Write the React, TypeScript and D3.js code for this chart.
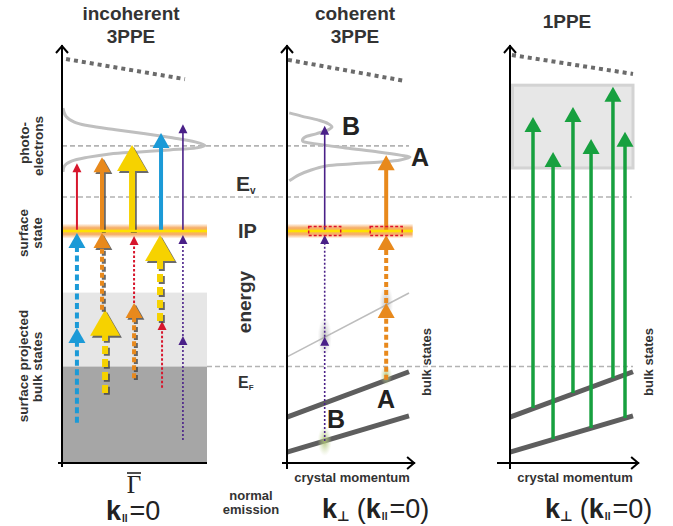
import React from 'react';
import * as d3 from 'd3';

// energy axis (arbitrary units, E_F = 0)
const E_MIN = -2.4;
const E_MAX = 8;
const E_F = 0;
const E_GAP_TOP = 1.84;
const E_IP = 3.37;
const E_VAC = 4.22;
const E_PEAK = 5.49;

// photoelectron spectra: energy / normalised intensity
const spec1E = [6.43, 6.23, 6.08, 5.99, 5.89, 5.79, 5.69, 5.59, 5.5, 5.44, 5.39, 5.34, 5.29, 5.21, 5.11, 4.99, 4.84];
const spec1I = [0, 0.02, 0.08, 0.18, 0.37, 0.58, 0.77, 0.93, 1.0, 0.94, 0.75, 0.54, 0.33, 0.18, 0.06, 0.01, 0];
const spec2E = [6.31, 6.23, 6.13, 6.04, 5.96, 5.89, 5.79, 5.69, 5.61, 5.54, 5.44, 5.34, 5.26, 5.21, 5.14, 5.09, 5.04, 4.99, 4.89, 4.77, 4.62];
const spec2I = [0.01, 0.11, 0.25, 0.33, 0.36, 0.33, 0.23, 0.13, 0.12, 0.23, 0.47, 0.74, 0.92, 1.0, 0.92, 0.76, 0.51, 0.31, 0.19, 0.09, 0.01];

// bulk bands (crystal momentum 0..1)
const bandK = [0, 1];
const upperBandE = [-1.26, -0.13];
const lowerBandE = [-2.13, -1.23];
const thinBandE = [0.24, 1.83];

// upper dotted limit lines: [k0, k1], [E0, E1]
const limitK = [[0.028, 0.848], [0.008, 0.976], [0.016, 1.0]];
const limitE = [[7.65, 7.15], [7.63, 7.1], [7.75, 7.28]];

// incoherent 3PPE: three steps, [position, from, to, photon]
const incoStep1 = [
  [0.103, -1.4, 0.96, 'blue'],
  [0.297, -0.66, 1.41, 'yellow'],
  [0.497, -0.29, 1.58, 'orange'],
  [0.69, -0.53, 1.13, 'red'],
  [0.834, -1.83, 0.76, 'purple'],
];
const incoStep2 = [
  [0.103, 0.96, 3.32, 'blue'],
  [0.276, 1.41, 3.32, 'orange'],
  [0.497, 1.58, 3.25, 'red'],
  [0.676, 1.13, 3.27, 'yellow'],
  [0.834, 0.76, 3.27, 'purple'],
];
const incoStep3 = [
  [0.103, 3.37, 5.06, 'red'],
  [0.276, 3.37, 5.21, 'orange'],
  [0.483, 3.37, 5.51, 'yellow'],
  [0.683, 3.37, 5.81, 'blue'],
  [0.834, 3.37, 6.03, 'purple'],
];

// coherent 3PPE
const cohStep1 = [
  [0.309, -1.85, 0.74, 'purple'],
  [0.813, -0.33, 1.58, 'orange'],
];
const cohStep2 = [
  [0.309, 0.74, 3.27, 'purple'],
  [0.813, 1.58, 3.27, 'orange'],
];
const cohStep3 = [
  [0.309, 3.37, 5.99, 'purple'],
  [0.813, 3.37, 5.26, 'orange'],
];

// 1PPE direct transitions
const onePK = [0.187, 0.35, 0.512, 0.659, 0.837, 0.935];
const onePFrom = [-1.03, -1.8, -0.66, -1.53, -0.29, -1.28];
const onePTo = [6.21, 5.34, 6.46, 5.66, 6.96, 5.84];

const photons = {
  blue: { color: '#1b9ad7', w: 4, hw: 17, hl: 15, dash: '6 3.5', shadow: false },
  orange: { color: '#e8891c', w: 4, hw: 17, hl: 15, dash: '5 3', shadow: true },
  yellow: { color: '#f6d200', w: 6, hw: 30, hl: 26, dash: '8 5', shadow: true },
  red: { color: '#d7162c', w: 2, hw: 9, hl: 9, dash: '2.5 2', shadow: false },
  purple: { color: '#4a2088', w: 1.6, hw: 9, hl: 9, dash: '2 2', shadow: false },
  green: { color: '#17a03f', w: 3.5, hw: 17, hl: 15, dash: null, shadow: false },
};

const yE = d3.scaleLinear().domain([E_MIN, E_MAX]).range([463, 45]);
const x1 = d3.scaleLinear().domain([0, 1]).range([62, 207]);
const x2 = d3.scaleLinear().domain([0, 1]).range([287, 409]);
const x3 = d3.scaleLinear().domain([0, 1]).range([510, 633]);
const i1 = d3.scaleLinear().domain([0, 1]).range([63, 205]);
const i2 = d3.scaleLinear().domain([0, 1]).range([288, 410]);

const FONT = '"Liberation Sans", Arial, sans-serif';
const TXT = '#333';

function Arrow({ x, from, to, p, dashed, noShadow }) {
  const st = photons[p];
  const y0 = yE(from);
  const y1 = yE(to);
  const shaftEnd = y1 + st.hl * 0.85;
  const head = `M${x},${y1} L${x + st.hw / 2},${y1 + st.hl} L${x - st.hw / 2},${y1 + st.hl} Z`;
  const shapes = (c, key) => (
    <g key={key}>
      <line x1={x} x2={x} y1={y0} y2={shaftEnd} stroke={c} strokeWidth={st.w}
        strokeDasharray={dashed ? st.dash : undefined} />
      <path d={head} fill={c} />
    </g>
  );
  return (
    <g>
      {st.shadow && !noShadow && <g transform="translate(1.8,1.8)" opacity={0.75}>{shapes('#3a3a3a', 's')}</g>}
      {shapes(st.color, 'm')}
    </g>
  );
}

function VAxis({ x, y0, y1 }) {
  return (
    <g stroke="#000" strokeWidth={2} fill="none">
      <line x1={x} x2={x} y1={y0} y2={y1} />
      <polyline points={`${x - 6},${y1 + 8} ${x},${y1 + 1} ${x + 6},${y1 + 8}`} />
    </g>
  );
}

function HAxis({ x0, x1, y, arrow }) {
  return (
    <g stroke="#000" strokeWidth={2} fill="none">
      <line x1={x0} x2={x1} y1={y} y2={y} />
      {arrow && <polyline points={`${x1 - 8},${y - 6} ${x1 - 1},${y} ${x1 - 8},${y + 6}`} />}
    </g>
  );
}

function Rot({ x, y, children, size = 13.5 }) {
  return (
    <text transform={`translate(${x},${y}) rotate(-90)`} textAnchor="middle" fontFamily={FONT}
      fontWeight="bold" fontSize={size} fill={TXT}>{children}</text>
  );
}

export default function App() {
  const spec = (E, I, xs) =>
    d3.line<number>().x((_, j) => xs(I[j])).y((e) => yE(e)).curve(d3.curveCatmullRom.alpha(0.5))(E);
  const band = (xs, E) => d3.line<number>().x((k) => xs(k)).y((_, j) => yE(E[j]))(bandK);
  const yF = yE(E_F);
  const yB = yE(E_MIN);
  const yIP = yE(E_IP);
  const bandHalf = 7.5;

  const glow = (id, cx, E, w, h) => (
    <rect x={cx - w / 2} y={yE(E) - h / 2} width={w} height={h} fill={`url(#${id})`} />
  );

  return (
    <svg width={673} height={526} style={{ position: 'absolute', left: 0, top: 0, background: '#fff' }}>
      <defs>
        <linearGradient id="ssband" x1="0" y1="0" x2="0" y2="1">
          <stop offset="0" stopColor="#f6a14a" stopOpacity={0} />
          <stop offset="0.28" stopColor="#f39a45" stopOpacity={0.8} />
          <stop offset="0.5" stopColor="#f8be4a" stopOpacity={1} />
          <stop offset="0.72" stopColor="#f39a45" stopOpacity={0.8} />
          <stop offset="1" stopColor="#f6a14a" stopOpacity={0} />
        </linearGradient>
        <radialGradient id="grayglow">
          <stop offset="0" stopColor="#9a9a9a" stopOpacity={0.6} />
          <stop offset="1" stopColor="#b0b0b0" stopOpacity={0} />
        </radialGradient>
        <radialGradient id="greenglow">
          <stop offset="0" stopColor="#a9c16f" stopOpacity={0.9} />
          <stop offset="1" stopColor="#c9d8a0" stopOpacity={0} />
        </radialGradient>
      </defs>

      {/* panel 1 backgrounds */}
      <rect x={x1(0)} y={yE(E_GAP_TOP)} width={x1(1) - x1(0)} height={yF - yE(E_GAP_TOP)} fill="#e6e6e6" />
      <rect x={x1(0)} y={yF} width={x1(1) - x1(0)} height={yB - yF} fill="#a6a6a6" />

      {/* reference dashed levels */}
      <g stroke="#b3b3b3" strokeWidth={1.6} strokeDasharray="5 3">
        <line x1={x1(0)} x2={x2(1)} y1={yE(E_PEAK)} y2={yE(E_PEAK)} />
        <line x1={x1(0)} x2={x3(0.99)} y1={yE(E_VAC)} y2={yE(E_VAC)} />
        <line x1={x1(1)} x2={x3(1)} y1={yF} y2={yF} />
      </g>

      {/* upper dotted limit lines */}
      {[x1, x2, x3].map((xs, j) => (
        <line key={j} x1={xs(limitK[j][0])} x2={xs(limitK[j][1])} y1={yE(limitE[j][0])} y2={yE(limitE[j][1])}
          stroke="#6b6b6b" strokeWidth={4} strokeDasharray="4 4" />
      ))}

      {/* spectra */}
      <path d={spec(spec1E, spec1I, i1)} fill="none" stroke="#bfbfbf" strokeWidth={3} />
      <path d={spec(spec2E, spec2I, i2)} fill="none" stroke="#bfbfbf" strokeWidth={3} />

      {/* 1PPE final state box */}
      <rect x={x3(0.02)} y={yE(7.0)} width={x3(1.0) - x3(0.02)} height={yE(4.94) - yE(7.0)}
        fill="#e7e7e7" stroke="#d3d3d3" strokeWidth={3} />

      {/* surface state glow */}
      <rect x={x1(0)} y={yIP - bandHalf} width={x1(1) - x1(0)} height={bandHalf * 2} fill="url(#ssband)" />
      <rect x={x2(0)} y={yIP - bandHalf} width={x2(1.03) - x2(0)} height={bandHalf * 2} fill="url(#ssband)" />

      {/* bulk bands */}
      <path d={band(x2, thinBandE)} stroke="#bdbdbd" strokeWidth={1.6} fill="none" />
      {[x2, x3].map((xs, j) => (
        <g key={j} stroke="#5e5e5e" strokeWidth={5} fill="none">
          <path d={band(xs, upperBandE)} />
          <path d={band(xs, lowerBandE)} />
        </g>
      ))}

      {/* resonance glows */}
      {glow('grayglow', x2(cohStep1[0][0] as number), 0.74, 14, 40)}
      {glow('grayglow', x2(cohStep1[1][0] as number), 1.58, 14, 36)}
      {glow('greenglow', x2(cohStep1[0][0] as number), -1.85, 14, 30)}
      {glow('greenglow', x2(cohStep1[1][0] as number), -0.22, 12, 20)}

      {/* incoherent arrows */}
      {incoStep1.map((a, j) => <Arrow key={'a' + j} x={x1(a[0] as number)} from={a[1]} to={a[2]} p={a[3]} dashed />)}
      {incoStep2.map((a, j) => <Arrow key={'b' + j} x={x1(a[0] as number)} from={a[1]} to={a[2]} p={a[3]} dashed />)}
      {incoStep3.map((a, j) => <Arrow key={'c' + j} x={x1(a[0] as number)} from={a[1]} to={a[2]} p={a[3]} />)}

      {/* coherent arrows */}
      {cohStep1.map((a, j) => <Arrow key={'d' + j} x={x2(a[0] as number)} from={a[1]} to={a[2]} p={a[3]} dashed noShadow />)}
      {cohStep2.map((a, j) => <Arrow key={'e' + j} x={x2(a[0] as number)} from={a[1]} to={a[2]} p={a[3]} dashed noShadow />)}
      {cohStep3.map((a, j) => <Arrow key={'f' + j} x={x2(a[0] as number)} from={a[1]} to={a[2]} p={a[3]} noShadow />)}

      {/* 1PPE arrows */}
      {onePK.map((k, j) => <Arrow key={'g' + j} x={x3(k)} from={onePFrom[j]} to={onePTo[j]} p="green" />)}

      {/* surface state line */}
      <line x1={x1(0)} x2={x1(1)} y1={yIP} y2={yIP} stroke="#ffe100" strokeWidth={2.5} />
      <line x1={x2(0)} x2={x2(1.03)} y1={yIP} y2={yIP} stroke="#ffe100" strokeWidth={2.5} />
      {cohStep3.map((a, j) => (
        <rect key={'r' + j} x={x2(a[0] as number) - 16} y={yIP - 4.5} width={32} height={9}
          fill="none" stroke="#e0102a" strokeWidth={1.5} strokeDasharray="3 2" />
      ))}

      {/* axes */}
      <VAxis x={x1(0)} y0={yB + 4} y1={yE(E_MAX)} />
      <HAxis x0={x1(0) - 4} x1={x1(1)} y={yB} />
      <VAxis x={x2(0)} y0={yB + 6} y1={yE(E_MAX)} />
      <HAxis x0={x2(0) - 5} x1={x2(1.05)} y={yB} arrow />
      <VAxis x={x3(0)} y0={yB + 6} y1={yE(E_MAX)} />
      <HAxis x0={x3(0) - 13} x1={x3(1.05)} y={yB} arrow />

      {/* titles */}
      <g fontFamily={FONT} fontWeight="bold" fontSize={19} fill={TXT} textAnchor="middle">
        <text x={131} y={20}>incoherent</text>
        <text x={131} y={43}>3PPE</text>
        <text x={355} y={20}>coherent</text>
        <text x={355} y={43}>3PPE</text>
        <text x={567} y={28}>1PPE</text>
      </g>

      {/* left side labels */}
      <Rot x={29} y={143}>photo-</Rot>
      <Rot x={43} y={146}>electrons</Rot>
      <Rot x={28} y={233}>surface</Rot>
      <Rot x={42} y={233}>state</Rot>
      <Rot x={28} y={366}>surface projected</Rot>
      <Rot x={42} y={367}>bulk states</Rot>
      <Rot x={431} y={362} size={13}>bulk states</Rot>
      <Rot x={653} y={362} size={13}>bulk states</Rot>
      <Rot x={251} y={302} size={19}>energy</Rot>

      {/* level labels */}
      <g fontFamily={FONT} fontWeight="bold" fill={TXT}>
        <text x={236} y={191} fontSize={21}>E<tspan fontSize={10} dy={3}>v</tspan></text>
        <text x={238} y={238} fontSize={20}>IP</text>
        <text x={238} y={388} fontSize={16}>E<tspan fontSize={8} dy={2}>F</tspan></text>
        <text x={342} y={135} fontSize={25} fill="#222">B</text>
        <text x={411} y={166} fontSize={25} fill="#222">A</text>
        <text x={377} y={408} fontSize={25} fill="#222">A</text>
        <text x={327} y={428} fontSize={25} fill="#222">B</text>
        <text x={352} y={482} fontSize={13} textAnchor="middle">crystal momentum</text>
        <text x={575} y={482} fontSize={13} textAnchor="middle">crystal momentum</text>
        <text x={251} y={500} fontSize={13} textAnchor="middle">normal</text>
        <text x={251} y={514} fontSize={13} textAnchor="middle">emission</text>
      </g>

      {/* momentum labels */}
      <text x={134} y={493} fontFamily='"Liberation Serif", serif' fontSize={25} fill="#222" textAnchor="middle">Γ</text>
      <line x1={127} x2={141} y1={473} y2={473} stroke="#222" strokeWidth={1.6} />
      <g fontFamily={FONT} fill="#222" fontSize={27}>
        <text x={106} y={520}>
          <tspan fontWeight="bold">k</tspan>
          <tspan fontWeight="bold" fontSize={10} dy={2} dx={1}>II</tspan>
          <tspan dy={-2} dx={2}>=0</tspan>
        </text>
        {[322, 545].map((x0) => (
          <text key={x0} x={x0} y={518}>
            <tspan fontWeight="bold">k</tspan>
            <tspan fontWeight="bold" fontSize={14} dy={3} fontFamily='"DejaVu Sans", sans-serif'>⊥</tspan>
            <tspan dy={-3} dx={7}>(</tspan>
            <tspan fontWeight="bold">k</tspan>
            <tspan fontWeight="bold" fontSize={10} dy={2} dx={1}>II</tspan>
            <tspan dy={-2} dx={2}>=0)</tspan>
          </text>
        ))}
      </g>
    </svg>
  );
}
